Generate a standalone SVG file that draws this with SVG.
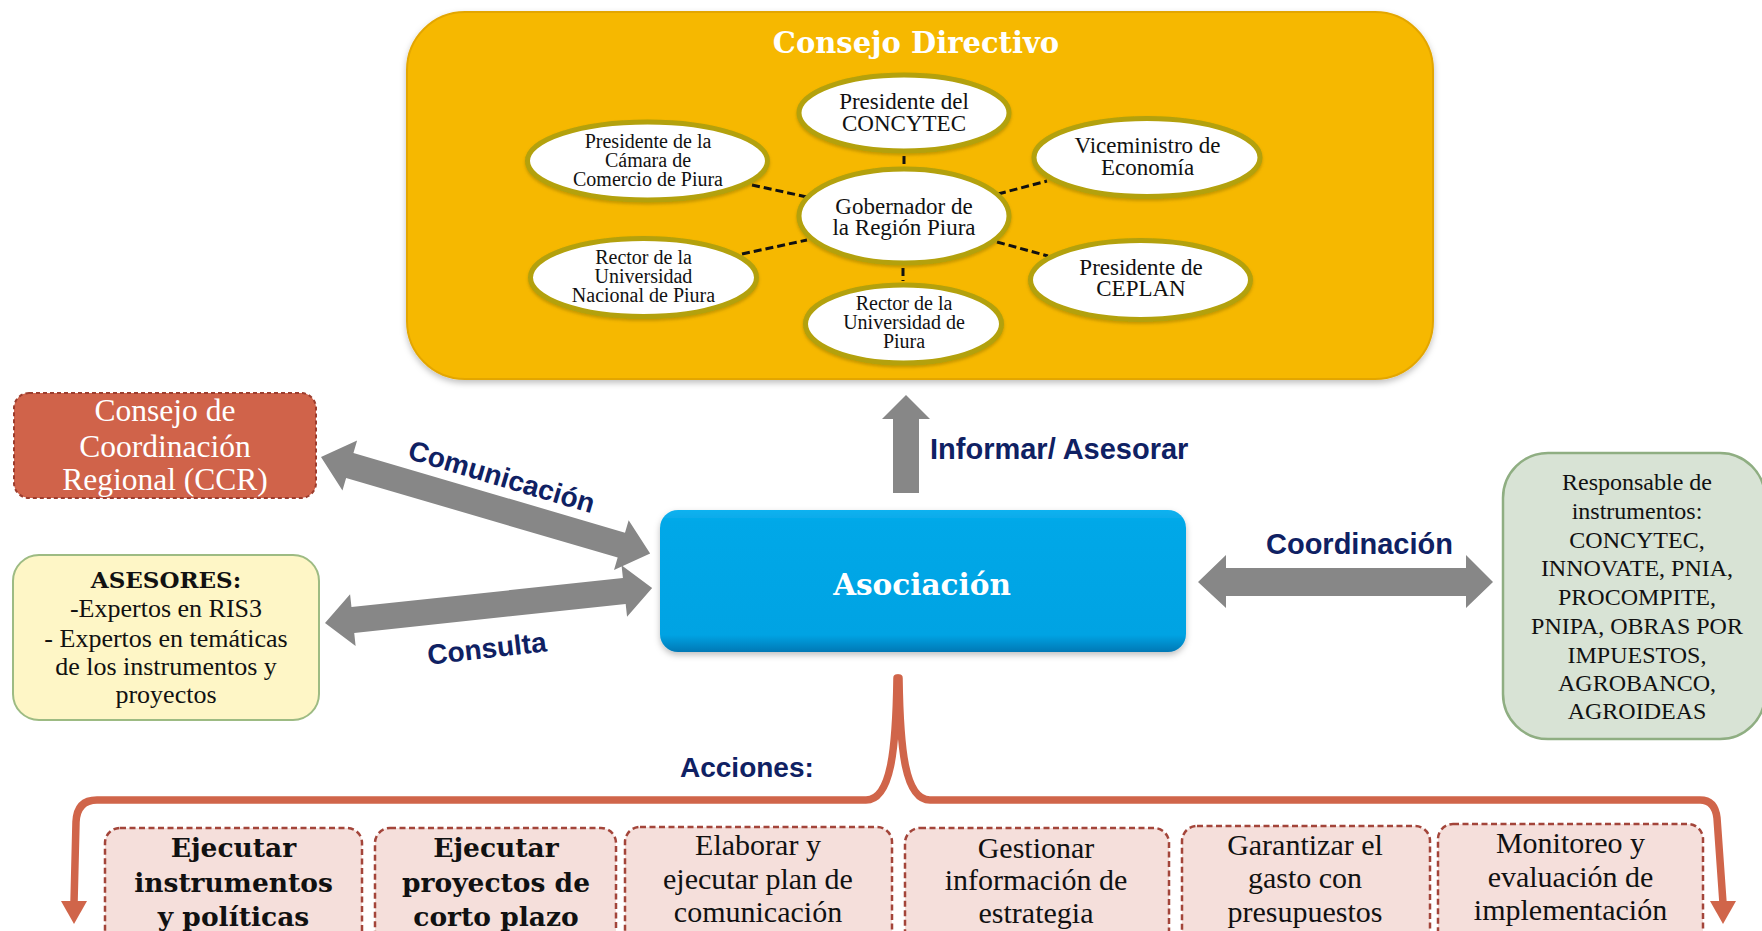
<svg xmlns="http://www.w3.org/2000/svg" width="1762" height="931" viewBox="0 0 1762 931">
<defs>
<style>
.ser{font-family:"Liberation Serif","Times New Roman",serif;fill:#111;text-anchor:middle}
.serb{font-family:"DejaVu Serif","Liberation Serif",serif;font-weight:bold;text-anchor:middle}
.lab{font-family:"Liberation Sans",Arial,sans-serif;font-weight:bold;fill:#0f2163}
.ell{fill:#fff;stroke:#b3a10a;stroke-width:5}
.dash{stroke:#111;stroke-width:3;stroke-dasharray:8 4;fill:none}
.garrow{fill:#878787}
.act{fill:#f5dfdb;stroke:#a3453a;stroke-width:2.5;stroke-dasharray:6 3.5}
.brk{fill:none;stroke:#d0654a;stroke-width:7.5;stroke-linecap:round;stroke-linejoin:round}
</style>
<linearGradient id="blue" x1="0" y1="0" x2="0" y2="1">
<stop offset="0" stop-color="#12b2f0"/>
<stop offset="0.08" stop-color="#02a8e8"/>
<stop offset="0.88" stop-color="#00a3e3"/>
<stop offset="1" stop-color="#0078b5"/>
</linearGradient>
<filter id="sh" x="-10%" y="-10%" width="120%" height="125%">
<feDropShadow dx="0" dy="3" stdDeviation="3" flood-color="#000" flood-opacity="0.25"/>
</filter>
<filter id="esh" x="-10%" y="-10%" width="120%" height="130%">
<feDropShadow dx="0" dy="2" stdDeviation="1.5" flood-color="#6b5a00" flood-opacity="0.35"/>
</filter>
</defs>
<rect width="1762" height="931" fill="#fff"/>

<g id="consejo-directivo">
<rect x="407" y="12" width="1026" height="367" rx="58" fill="#f6b800" stroke="#e3a600" stroke-width="2" filter="url(#sh)"/>
<text class="serb" x="916" y="53" font-size="29" fill="#fff">Consejo Directivo</text>
</g>

<g id="connectors">
<line class="dash" x1="904" y1="156" x2="904" y2="168"/>
<line class="dash" x1="752" y1="185" x2="807" y2="197"/>
<line class="dash" x1="998" y1="194" x2="1047" y2="181"/>
<line class="dash" x1="742" y1="254" x2="807" y2="240"/>
<line class="dash" x1="997" y1="242" x2="1048" y2="256" stroke-width="5"/>
<line class="dash" x1="903" y1="268" x2="903" y2="281"/>
<polygon class="garrow" points="0,0 30,-26 30,-13 313,-13 313,-26 343,0 313,26 313,13 30,13 30,26" transform="translate(321,457) rotate(16.35)"/>
<polygon class="garrow" points="0,0 28,-26 28,-13 301,-13 301,-26 329,0 301,26 301,13 28,13 28,26" transform="translate(325,623) rotate(-6.1)"/>
<polygon class="garrow" points="906,395 930,419 919,419 919,493 893,493 893,419 882,419"/>
<polygon class="garrow" points="1198,582 1226,555 1226,568 1466,568 1466,555 1493,582 1466,608 1466,596 1226,596 1226,608"/>
<text class="lab" font-size="28" text-anchor="middle" transform="translate(499,486) rotate(16.5)">Comunicación</text>
<text class="lab" font-size="28" text-anchor="middle" transform="translate(488,658) rotate(-6.5)">Consulta</text>
<text class="lab" font-size="29" x="930" y="459">Informar/ Asesorar</text>
<text class="lab" font-size="29" x="1266" y="554">Coordinación</text>
<text class="lab" font-size="28" x="680" y="777">Acciones:</text>
<path class="brk" d="M 897 678 C 896 750 891 800 866 800 L 97 800 Q 77 800 76 822 L 74 903"/>
<path class="brk" d="M 899 678 C 900 750 905 800 930 800 L 1700 800 Q 1715 800 1717 818 L 1723 903"/>
<polygon points="61,901 87,901 74,924" fill="#d0654a"/>
<polygon points="1710,901 1736,901 1723,924" fill="#d0654a"/>
</g>

<g id="presidente-concytec">
<ellipse class="ell" cx="904" cy="113" rx="105" ry="38" filter="url(#esh)"/>
<text class="ser" font-size="23" x="904" y="109">Presidente del</text>
<text class="ser" font-size="23" x="904" y="130.7">CONCYTEC</text>
</g>
<g id="presidente-camara">
<ellipse class="ell" cx="647.5" cy="161" rx="120" ry="39" filter="url(#esh)"/>
<text class="ser" font-size="20" x="648" y="147.5">Presidente de la</text>
<text class="ser" font-size="20" x="648" y="166.5">Cámara de</text>
<text class="ser" font-size="20" x="648" y="186">Comercio de Piura</text>
</g>
<g id="viceministro">
<ellipse class="ell" cx="1147" cy="157.5" rx="113" ry="39" filter="url(#esh)"/>
<text class="ser" font-size="23" x="1147.5" y="153">Viceministro de</text>
<text class="ser" font-size="23" x="1147.5" y="174.7">Economía</text>
</g>
<g id="gobernador">
<ellipse class="ell" cx="904" cy="216" rx="105" ry="47" filter="url(#esh)"/>
<text class="ser" font-size="23" x="904" y="213.5">Gobernador de</text>
<text class="ser" font-size="23" x="904" y="235.2">la Región Piura</text>
</g>
<g id="rector-unp">
<ellipse class="ell" cx="643.5" cy="277.5" rx="113" ry="39" filter="url(#esh)"/>
<text class="ser" font-size="20" x="643.5" y="263.5">Rector de la</text>
<text class="ser" font-size="20" x="643.5" y="282.5">Universidad</text>
<text class="ser" font-size="20" x="643.5" y="302">Nacional de Piura</text>
</g>
<g id="presidente-ceplan">
<ellipse class="ell" cx="1140.5" cy="280" rx="110" ry="39.5" filter="url(#esh)"/>
<text class="ser" font-size="23" x="1141" y="274.5">Presidente de</text>
<text class="ser" font-size="23" x="1141" y="296.2">CEPLAN</text>
</g>
<g id="rector-udep">
<ellipse class="ell" cx="903.5" cy="324" rx="98" ry="39" filter="url(#esh)"/>
<text class="ser" font-size="20" x="904" y="310">Rector de la</text>
<text class="ser" font-size="20" x="904" y="329">Universidad de</text>
<text class="ser" font-size="20" x="904" y="348">Piura</text>
</g>

<g id="ccr">
<rect x="14" y="393" width="302" height="105" rx="15" fill="#d0634a" stroke="#9c3d2e" stroke-width="2" stroke-dasharray="4 3"/>
<text class="ser" font-size="31.5" x="165" y="421" style="fill:#fff">Consejo de</text>
<text class="ser" font-size="31.5" x="165" y="456.5" style="fill:#fff">Coordinación</text>
<text class="ser" font-size="31.5" x="165" y="490" style="fill:#fff">Regional (CCR)</text>
</g>

<g id="asesores">
<rect x="13" y="555" width="306" height="165" rx="26" fill="#fef6c6" stroke="#9dbb83" stroke-width="2"/>
<text class="serb" font-size="23" x="166" y="588" fill="#111">ASESORES:</text>
<text class="ser" font-size="26" x="166" y="617">-Expertos en RIS3</text>
<text class="ser" font-size="26" x="166" y="646.5">- Expertos en temáticas</text>
<text class="ser" font-size="26" x="166" y="675">de los instrumentos y</text>
<text class="ser" font-size="26" x="166" y="703">proyectos</text>
</g>

<g id="asociacion">
<rect x="660" y="510" width="526" height="142" rx="18" fill="url(#blue)" filter="url(#sh)"/>
<text class="serb" font-size="29.5" x="922" y="595" fill="#fff">Asociación</text>
</g>

<g id="responsable">
<rect x="1503" y="453" width="262" height="286" rx="45" fill="#d8e3d5" stroke="#8fae82" stroke-width="2.5"/>
<text class="ser" font-size="24" x="1637" y="490">Responsable de</text>
<text class="ser" font-size="24" x="1637" y="519">instrumentos:</text>
<text class="ser" font-size="24" x="1637" y="547.5">CONCYTEC,</text>
<text class="ser" font-size="24" x="1637" y="576">INNOVATE, PNIA,</text>
<text class="ser" font-size="24" x="1637" y="605">PROCOMPITE,</text>
<text class="ser" font-size="24" x="1637" y="634">PNIPA, OBRAS POR</text>
<text class="ser" font-size="24" x="1637" y="662.5">IMPUESTOS,</text>
<text class="ser" font-size="24" x="1637" y="691">AGROBANCO,</text>
<text class="ser" font-size="24" x="1637" y="719">AGROIDEAS</text>
</g>

<g id="accion-1">
<rect class="act" x="105" y="828" width="257" height="130" rx="15"/>
<text class="serb" font-size="26.5" x="233.5" y="857" fill="#111">Ejecutar</text>
<text class="serb" font-size="26.5" x="233.5" y="892" fill="#111">instrumentos</text>
<text class="serb" font-size="26.5" x="233.5" y="926" fill="#111">y políticas</text>
</g>
<g id="accion-2">
<rect class="act" x="375" y="828" width="241" height="130" rx="15"/>
<text class="serb" font-size="26.5" x="496" y="857" fill="#111">Ejecutar</text>
<text class="serb" font-size="26.5" x="496" y="892" fill="#111">proyectos de</text>
<text class="serb" font-size="26.5" x="496" y="926" fill="#111">corto plazo</text>
</g>
<g id="accion-3">
<rect class="act" x="625" y="827" width="267" height="130" rx="15"/>
<text class="ser" font-size="30" x="758" y="855">Elaborar y</text>
<text class="ser" font-size="30" x="758" y="888.5">ejecutar plan de</text>
<text class="ser" font-size="30" x="758" y="922">comunicación</text>
</g>
<g id="accion-4">
<rect class="act" x="905" y="828" width="264" height="130" rx="15"/>
<text class="ser" font-size="30" x="1036" y="858">Gestionar</text>
<text class="ser" font-size="30" x="1036" y="890">información de</text>
<text class="ser" font-size="30" x="1036" y="922.5">estrategia</text>
</g>
<g id="accion-5">
<rect class="act" x="1182" y="826" width="248" height="130" rx="15"/>
<text class="ser" font-size="30" x="1305" y="855">Garantizar el</text>
<text class="ser" font-size="30" x="1305" y="888">gasto con</text>
<text class="ser" font-size="30" x="1305" y="921.5">presupuestos</text>
</g>
<g id="accion-6">
<rect class="act" x="1438" y="824" width="265" height="130" rx="15"/>
<text class="ser" font-size="30" x="1570.5" y="853">Monitoreo y</text>
<text class="ser" font-size="30" x="1570.5" y="886.5">evaluación de</text>
<text class="ser" font-size="30" x="1570.5" y="920">implementación</text>
</g>
</svg>
